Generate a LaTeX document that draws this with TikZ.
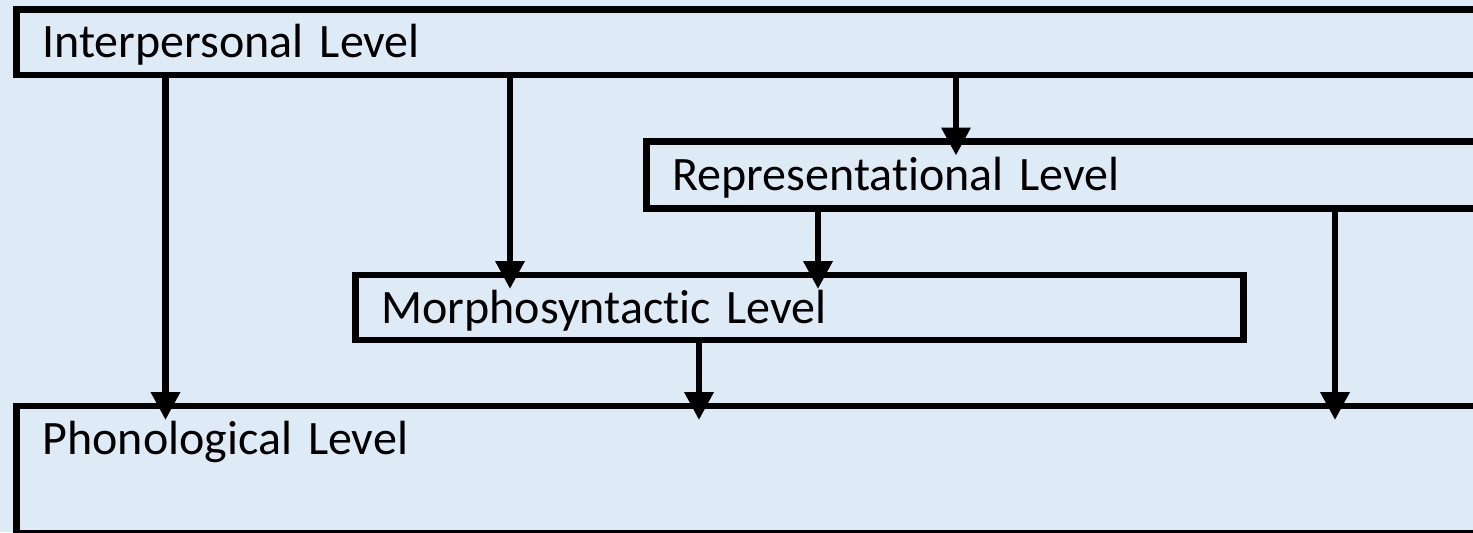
\documentclass[tikz,border=0pt]{standalone}
\usepackage{fontspec}
\setmainfont{Carlito}[RawFeature=-liga]
\usetikzlibrary{arrows.meta}
\definecolor{bg}{RGB}{222,234,246}

\tikzset{
  lvl/.style={draw, line width=3.3pt, fill=bg, anchor=north west, outer sep=0pt,
    inner xsep=13pt, inner ysep=0pt, align=left, text height=15.5pt, text depth=0pt,
    font=\fontsize{24}{28}\selectfont},
  arr/.style={line width=3.3pt, -{Triangle[length=14pt, width=14pt]}, shorten >=-7pt}
}

\begin{document}
\begin{tikzpicture}[x=0.5pt, y=-0.5pt]
\useasboundingbox (0,0) rectangle (1473,532);
\clip (0,0) rectangle (1473,532);
\fill[bg] (0,0) rectangle (1473,532);

\coordinate (IP) at (165.5,0);
\coordinate (IM) at (510,0);
\coordinate (IR) at (956,0);
\coordinate (RM) at (818,0);
\coordinate (RP) at (1335,0);
\coordinate (MP) at (699,0);

\node[lvl, minimum width=736.75pt, text width=710.75pt, minimum height=32.75pt] (inter) at (16.5,9.5) {Interpersonal Level};
\node[lvl, minimum width=421.75pt, text width=395.75pt, minimum height=33.5pt] (repr) at (646.5,141.5) {Representational Level};
\node[lvl, minimum width=444pt, text width=418pt, minimum height=32.5pt] (morph) at (355.5,275) {Morphosyntactic Level};
\node[lvl, minimum width=736.75pt, text width=710.75pt, minimum height=63.75pt, text depth=30.5pt] (phon) at (16.5,406) {Phonological Level};

\draw[arr] (inter.south -| IP) -- (phon.north -| IP);
\draw[arr] (inter.south -| IM) -- (morph.north -| IM);
\draw[arr] (inter.south -| IR) -- (repr.north -| IR);
\draw[arr] (repr.south -| RM) -- (morph.north -| RM);
\draw[arr] (repr.south -| RP) -- (phon.north -| RP);
\draw[arr] (morph.south -| MP) -- (phon.north -| MP);
\end{tikzpicture}
\end{document}
